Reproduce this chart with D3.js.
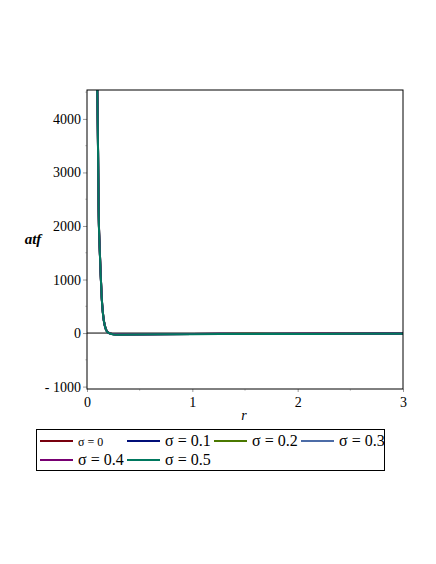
<!DOCTYPE html>
<html>
<head>
<meta charset="utf-8">
<script src="https://cdn.jsdelivr.net/npm/d3@7"></script>
<style>
  body { margin: 0; background: #fff; }
</style>
</head>
<body>
<div id="chart"></div>
<script>
// chart data
var rValues = [0.095, 0.10, 0.105, 0.11, 0.12, 0.13, 0.14, 0.15, 0.16, 0.18, 0.20, 0.25, 0.30, 0.50, 1.0, 1.5, 2.0, 2.5, 3.0];
var sigmaLabels = ["σ = 0", "σ = 0.1", "σ = 0.2", "σ = 0.3", "σ = 0.4", "σ = 0.5"];
var atf0  = [4900, 4250, 3420, 2380, 1620, 1100, 660, 400, 235, 70, 12, -20, -25, -22, -16, -13, -11, -10, -9];
var atf01 = [4890, 4240, 3410, 2370, 1615, 1095, 658, 398, 234, 69, 11, -21, -26, -23, -17, -14, -12, -11, -10];
var atf02 = [4880, 4230, 3400, 2360, 1610, 1090, 655, 396, 232, 68, 10, -22, -27, -24, -18, -15, -13, -12, -11];
var atf03 = [4870, 4220, 3390, 2350, 1605, 1085, 652, 394, 230, 67, 9, -23, -28, -25, -19, -16, -14, -13, -12];
var atf04 = [4860, 4210, 3380, 2340, 1600, 1080, 650, 392, 228, 66, 8, -24, -29, -26, -20, -17, -15, -14, -13];
var atf05 = [4850, 4200, 3370, 2330, 1595, 1075, 648, 390, 226, 65, 7, -25, -30, -27, -21, -18, -16, -15, -14];
var seriesColors = ["#78000E", "#000E78", "#4A7800", "#4C6CA7", "#780072", "#00785F"];
var xTicks = [0, 1, 2, 3];
var yTicks = [-1000, 0, 1000, 2000, 3000, 4000];

var allSeries = [atf0, atf01, atf02, atf03, atf04, atf05];
var serif = "'Liberation Serif', 'Times New Roman', serif";

var svgWidth = 436, svgHeight = 564;
var margin = { top: 90, right: 33, bottom: 175, left: 87 };
var width = svgWidth - margin.left - margin.right;
var height = svgHeight - margin.top - margin.bottom;

var svg = d3.select("#chart").append("svg")
    .attr("width", svgWidth)
    .attr("height", svgHeight)
    .attr("font-family", serif);

var chartGroup = svg.append("g")
    .attr("transform", `translate(${margin.left}, ${margin.top})`);

var xScale = d3.scaleLinear().domain([0, 3]).range([0, width]);
var yScale = d3.scaleLinear().domain([-1045, 4540]).range([height, 0]);

// clip for curves
chartGroup.append("clipPath").attr("id", "clip")
  .append("rect").attr("width", width).attr("height", height);

// axes
var bottomAxis = d3.axisBottom(xScale).tickValues(xTicks).tickSize(3).tickFormat(d3.format("d"));
var leftAxis = d3.axisLeft(yScale).tickValues(yTicks).tickSize(4)
    .tickFormat(d => d < 0 ? "- " + Math.abs(d) : d);

var xAx = chartGroup.append("g")
    .attr("transform", `translate(0, ${height})`)
    .call(bottomAxis)
    .attr("font-family", serif);
xAx.select(".domain").remove();
xAx.selectAll("line").attr("stroke", "#999");
xAx.selectAll("text").attr("font-size", "14px").attr("fill", "#000").attr("dy", "0.85em");

var yAx = chartGroup.append("g").call(leftAxis)
    .attr("font-family", serif);
yAx.select(".domain").remove();
yAx.selectAll("line").attr("stroke", "#999");
yAx.selectAll("text").attr("font-size", "14px").attr("fill", "#000").attr("x", -6);

// minor ticks
chartGroup.selectAll(".xminor")
    .data([0.5, 1.5, 2.5])
    .enter().append("line")
    .attr("x1", d => xScale(d)).attr("x2", d => xScale(d))
    .attr("y1", height).attr("y2", height + 2)
    .attr("stroke", "#ccc");
chartGroup.selectAll(".yminor")
    .data([-500, 500, 1500, 2500, 3500, 4500])
    .enter().append("line")
    .attr("x1", -2).attr("x2", 0)
    .attr("y1", d => yScale(d)).attr("y2", d => yScale(d))
    .attr("stroke", "#ccc");

// zero line
chartGroup.append("line")
    .attr("x1", 0).attr("x2", width)
    .attr("y1", yScale(0)).attr("y2", yScale(0))
    .attr("stroke", "#000").attr("stroke-width", 1);

// curves
var line = d3.line()
    .x((d, i) => xScale(rValues[i]))
    .y(d => yScale(d))
    .curve(d3.curveMonotoneX);

chartGroup.append("g").attr("clip-path", "url(#clip)")
  .selectAll("path")
  .data(allSeries)
  .enter().append("path")
  .attr("d", line)
  .attr("fill", "none")
  .attr("stroke", (d, i) => seriesColors[i])
  .attr("stroke-width", 2);

// frame
chartGroup.append("rect")
    .attr("width", width).attr("height", height)
    .attr("fill", "none").attr("stroke", "#000").attr("stroke-width", 1);

// axis labels
svg.append("text")
    .attr("x", 33).attr("y", 244)
    .attr("text-anchor", "middle")
    .attr("font-size", "15px")
    .attr("font-weight", "bold")
    .attr("font-style", "italic")
    .text("atf");

svg.append("text")
    .attr("x", 244).attr("y", 420)
    .attr("text-anchor", "middle")
    .attr("font-size", "14px")
    .attr("font-style", "italic")
    .text("r");

// legend
var legendPos = [
  { x: 40, y: 441 }, { x: 127, y: 441 }, { x: 214, y: 441 }, { x: 301, y: 441 },
  { x: 40, y: 460 }, { x: 127, y: 460 }
];
svg.append("rect")
    .attr("x", 36.5).attr("y", 429.5)
    .attr("width", 348).attr("height", 41)
    .attr("fill", "none").attr("stroke", "#000");

var legend = svg.selectAll(".legendItem")
    .data(sigmaLabels)
    .enter().append("g")
    .attr("transform", (d, i) => `translate(${legendPos[i].x}, ${legendPos[i].y})`);

legend.append("line")
    .attr("x1", 0).attr("x2", 33)
    .attr("stroke", (d, i) => seriesColors[i])
    .attr("stroke-width", 2);

legend.append("text")
    .attr("x", 38).attr("y", 5)
    .attr("font-size", (d, i) => i === 0 ? "12px" : "16px")
    .text(d => d);
</script>
</body>
</html>
